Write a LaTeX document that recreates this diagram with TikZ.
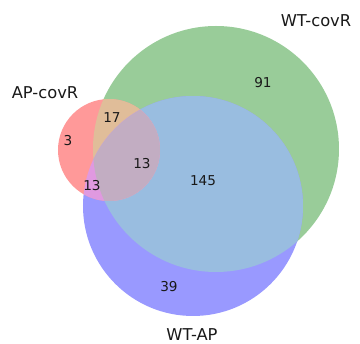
\documentclass[tikz,border=0pt]{standalone}
\usepackage{fontspec}
\setmainfont{DejaVu Sans}
\usetikzlibrary{positioning}
\definecolor{onlyR}{RGB}{255,153,153}
\definecolor{onlyG}{RGB}{153,204,153}
\definecolor{onlyB}{RGB}{153,153,255}
\definecolor{mixRG}{RGB}{224,189,153}
\definecolor{mixGB}{RGB}{153,189,224}
\definecolor{mixRB}{RGB}{224,153,224}
\definecolor{mixRGB}{RGB}{194,173,194}
\tikzset{
    setlabel/.style={font=\fontsize{16.3}{18}\selectfont,text=black!90,inner sep=0pt},
    numlabel/.style={font=\fontsize{13.6}{15}\selectfont,text=black!90,inner sep=0pt}
}

\begin{document}
\begin{tikzpicture}[x=1pt,y=-1pt]
  \useasboundingbox (0,0) rectangle (360,344);
  \coordinate (cG) at (216,149);
  \coordinate (cB) at (193,206);
  \coordinate (cR) at (109,150);
  \def\rG{123}
  \def\rB{110}
  \def\rR{51}

  % single sets
  \fill[onlyG] (cG) circle (\rG);
  \fill[onlyB] (cB) circle (\rB);
  \fill[onlyR] (cR) circle (\rR);

  % pairwise overlaps
  \begin{scope}
    \clip (cG) circle (\rG);
    \fill[mixGB] (cB) circle (\rB);
  \end{scope}
  \begin{scope}
    \clip (cR) circle (\rR);
    \fill[mixRG] (cG) circle (\rG);
    \fill[mixRB] (cB) circle (\rB);
  \end{scope}

  % all three
  \begin{scope}
    \clip (cR) circle (\rR);
    \clip (cG) circle (\rG);
    \fill[mixRGB] (cB) circle (\rB);
  \end{scope}

  \node[setlabel] (labG) at (316,21) {WT-covR};
  \node[setlabel] (labR) at (45,93) {AP-covR};
  \node[setlabel] (labB) at (192,335) {WT-AP};

  \node[numlabel] (nG) at (263,83) {91};
  \node[numlabel] (nR) at (68,141) {3};
  \node[numlabel] (nRG) at (112,118) {17};
  \node[numlabel] (nRGB) at (142,164) {13};
  \node[numlabel] (nRB) at (92,186) {13};
  \node[numlabel] (nGB) at (203,181) {145};
  \node[numlabel] (nB) at (169,287) {39};
\end{tikzpicture}
\end{document}
